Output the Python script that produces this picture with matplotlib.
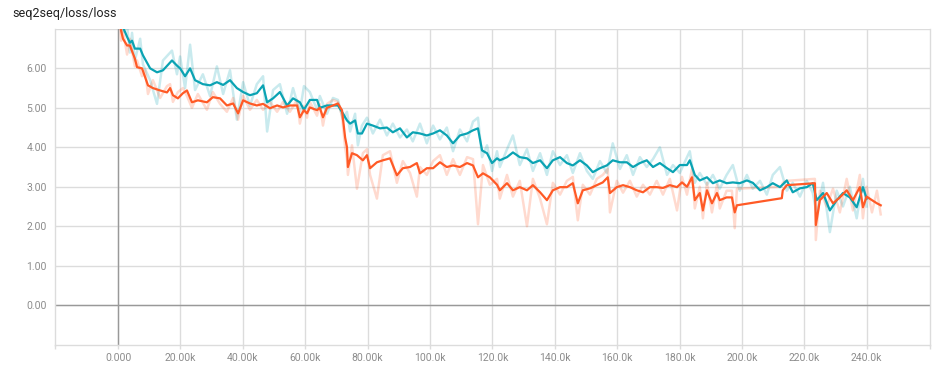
import matplotlib
matplotlib.use("Agg")
import matplotlib.pyplot as plt
import numpy as np

# ---------------- data (steps in thousands) ----------------
TEAL_STEPS = [0.6, 1.3, 2.9, 3.8, 4.5, 5.4, 7.1, 8.0, 10.3, 12.5, 14.4, 17.3, 18.9, 19.9, 21.5, 23.1,
              24.7, 27.2, 29.5, 31.7, 33.7, 35.9, 38.1, 40.1, 42.3, 44.5, 46.5, 47.8, 49.7, 51.9, 54.2,
              56.1, 58.3, 59.6, 61.5, 63.8, 64.7, 67.0, 68.9, 70.5, 72.1, 73.4, 74.4, 76.0, 76.9, 78.2,
              79.8, 81.7, 84.0, 86.2, 88.1, 90.4, 92.6, 94.5, 96.8, 99.0, 101.0, 103.2, 105.4, 107.4,
              109.6, 111.9, 113.8, 115.4, 116.7, 118.3, 119.9, 121.5, 122.4, 124.7, 126.6, 128.8, 131.1,
              133.0, 135.3, 137.5, 139.4, 141.7, 143.9, 145.8, 148.1, 150.3, 152.2, 154.5, 156.7, 158.6,
              160.9, 163.1, 165.1, 167.3, 169.5, 171.5, 173.7, 176.0, 177.9, 180.1, 182.4, 183.3, 184.9,
              186.5, 188.8, 190.7, 192.9, 195.1, 197.1, 199.3, 201.6, 203.5, 205.8, 208.0, 209.9, 212.2,
              214.4, 216.3, 218.6, 220.8, 222.7, 224.0, 226.0, 228.2, 230.4, 232.4, 234.6, 236.8, 238.8,
              240.0]
TEAL_SMOOTH = [7.6, 7.1, 6.8, 6.65, 6.7, 6.5, 6.5, 6.33, 6.0, 5.9, 5.95, 6.2, 6.07, 6.0, 5.8, 6.0,
               5.7, 5.6, 5.57, 5.65, 5.58, 5.7, 5.5, 5.4, 5.32, 5.37, 5.57, 5.14, 5.24, 5.4, 5.06,
               5.24, 5.14, 4.95, 5.2, 5.2, 5.0, 5.06, 5.06, 5.06, 4.86, 4.68, 4.6, 4.68, 4.35, 4.35,
               4.6, 4.55, 4.48, 4.5, 4.38, 4.48, 4.25, 4.38, 4.35, 4.3, 4.35, 4.43, 4.3, 4.1,
               4.3, 4.35, 4.43, 4.48, 3.92, 3.85, 3.6, 3.72, 3.67, 3.75, 3.87, 3.75, 3.72,
               3.6, 3.67, 3.47, 3.67, 3.75, 3.6, 3.54, 3.67, 3.54, 3.37, 3.47, 3.54, 3.67,
               3.62, 3.62, 3.5, 3.6, 3.67, 3.5, 3.6, 3.47, 3.37, 3.55, 3.55, 3.67, 3.3,
               3.16, 3.24, 3.09, 3.16, 3.09, 3.11, 3.09, 3.16, 3.1, 2.91, 2.99, 3.09, 2.99,
               3.16, 2.86, 2.96, 2.99, 3.09, 2.66, 2.84, 2.4, 2.66, 2.84, 2.73, 2.48, 2.99,
               2.7]
TEAL_RAW = [7.8, 6.9, 7.1, 6.4, 6.9, 6.2, 6.75, 6.1, 5.7, 5.1, 6.2, 6.45, 5.85, 6.3, 5.5, 6.6,
            5.45, 5.85, 5.3, 6.05, 5.35, 5.95, 4.7, 5.65, 5.05, 5.6, 5.8, 4.4, 5.45, 5.6, 4.85,
            5.5, 4.9, 5.55, 5.4, 4.95, 5.3, 4.85, 5.25, 5.2, 4.7, 4.9, 4.4, 4.85, 4.05, 4.55,
            4.75, 4.35, 4.7, 4.3, 4.6, 4.25, 4.45, 4.15, 4.6, 4.1, 4.55, 4.2, 4.5, 3.9,
            4.45, 4.15, 4.65, 4.75, 3.75, 4.05, 3.4, 3.9, 3.5, 3.95, 4.3, 3.55, 3.95,
            3.4, 3.85, 3.3, 3.9, 3.55, 3.8, 3.35, 3.85, 3.4, 3.2, 3.65, 3.35, 4.1,
            3.45, 3.8, 3.3, 3.75, 3.5, 3.7, 4.0, 3.3, 3.55, 3.35, 3.75, 3.9, 3.1,
            3.35, 3.05, 3.3, 2.95, 3.3, 3.55, 2.9, 3.3, 2.95, 3.15, 2.8, 3.3, 3.5,
            2.9, 3.1, 2.75, 3.15, 2.85, 2.3, 3.1, 1.85, 2.9, 2.5, 3.0, 2.2, 3.2,
            2.5]

ORANGE_STEPS = [0.3, 1.0, 1.6, 2.9, 3.8, 5.4, 6.1, 7.7, 8.7, 9.6, 11.2, 13.5, 15.7, 16.7, 17.6, 19.2,
                20.8, 22.1, 23.7, 25.6, 28.5, 30.4, 32.7, 34.9, 36.9, 38.5, 40.1, 42.3, 44.5, 46.5,
                48.7, 51.0, 52.9, 55.1, 57.4, 58.3, 59.6, 60.6, 61.5, 63.8, 64.7, 65.7, 67.0, 68.9,
                70.5, 71.8, 72.8, 73.4, 73.7, 75.0, 76.6, 78.5, 79.8, 80.8, 83.0, 84.9, 87.2, 89.4,
                91.3, 93.6, 95.8, 96.8, 99.0, 101.0, 103.2, 105.4, 107.4, 109.6, 111.9, 113.8, 115.4,
                117.0, 119.2, 121.5, 122.4, 124.7, 126.6, 128.8, 131.1, 133.0, 135.3, 137.5, 139.4,
                141.7, 143.9, 145.8, 147.4, 149.0, 151.3, 153.5, 155.4, 157.0, 157.7, 159.9, 161.9,
                164.1, 166.3, 168.3, 170.5, 172.7, 174.7, 176.9, 179.2, 180.8, 182.4, 184.0, 184.9,
                186.5, 187.5, 188.8, 190.4, 192.0, 192.9, 195.1, 196.8, 197.7, 198.4, 212.8, 213.1,
                214.4, 223.4, 223.7, 225.0, 227.2, 229.2, 231.4, 233.6, 235.6, 237.8, 238.8, 240.0,
                241.7, 243.3, 244.5]
ORANGE_SMOOTH = [7.4, 6.95, 6.75, 6.58, 6.58, 6.25, 6.03, 6.0, 5.77, 5.57, 5.5, 5.44, 5.39, 5.5, 5.32, 5.24,
                 5.37, 5.44, 5.14, 5.19, 5.14, 5.27, 5.24, 5.06, 5.11, 4.86, 5.19, 5.11, 5.06, 5.1,
                 4.99, 5.06, 5.01, 5.06, 5.06, 4.76, 4.94, 4.86, 5.01, 4.94, 5.0, 4.76, 5.0, 5.06,
                 5.11, 4.94, 4.25, 4.0, 3.5, 3.85, 3.8, 3.67, 3.8, 3.47, 3.62, 3.67, 3.72, 3.29,
                 3.47, 3.5, 3.6, 3.34, 3.47, 3.47, 3.62, 3.5, 3.54, 3.5, 3.6, 3.54, 3.24,
                 3.34, 3.24, 3.05, 2.91, 3.09, 2.91, 2.99, 2.91, 3.04, 2.86, 2.66, 2.91,
                 2.99, 2.99, 3.09, 2.58, 2.91, 2.96, 3.04, 3.11, 3.24, 2.84, 2.99, 3.04,
                 2.99, 2.91, 2.86, 2.99, 2.99, 2.97, 3.04, 2.99, 3.11, 3.0, 3.24, 2.66,
                 2.84, 2.4, 2.91, 2.58, 2.84, 2.66, 2.73, 2.73, 2.35, 2.53, 2.71, 2.91,
                 3.04, 3.09, 2.03, 2.66, 2.84, 2.58, 2.73, 2.91, 2.66, 2.99, 2.48, 2.75,
                 2.66, 2.58, 2.53]
ORANGE_RAW = [7.6, 6.7, 6.95, 6.35, 6.75, 6.05, 6.2, 5.8, 5.95, 5.35, 5.7, 5.25, 5.55, 5.6, 5.15, 5.4,
              5.5, 5.3, 5.0, 5.35, 4.95, 5.4, 5.1, 4.9, 5.25, 4.7, 5.3, 4.95, 5.2, 4.95,
              5.15, 4.9, 5.15, 4.9, 5.2, 4.6, 5.05, 4.75, 5.15, 4.8, 5.1, 4.55, 5.1, 5.2,
              5.15, 4.8, 4.0, 3.7, 3.3, 4.05, 2.95, 3.85, 3.95, 3.3, 2.7, 3.8, 3.9, 3.1,
              3.65, 3.35, 2.75, 3.5, 3.3, 3.65, 3.8, 3.3, 3.7, 3.3, 3.75, 3.7, 2.05,
              3.55, 3.05, 3.2, 2.7, 3.3, 2.75, 3.15, 2.0, 3.2, 2.7, 2.05, 3.1,
              2.8, 3.15, 3.25, 2.15, 3.05, 2.8, 3.2, 3.3, 3.45, 2.35, 3.15, 2.85,
              3.15, 2.75, 3.05, 2.8, 3.15, 2.8, 3.2, 2.4, 3.25, 2.8, 3.45, 2.45,
              3.0, 2.2, 3.1, 2.35, 3.05, 2.45, 2.9, 2.9, 1.95, 2.95, 3.0, 3.1,
              3.15, 3.2, 1.65, 2.9, 2.5, 2.95, 2.35, 3.2, 2.4, 3.3, 2.2, 3.0,
              2.35, 2.9, 2.3]

X_TICKS = [0, 20, 40, 60, 80, 100, 120, 140, 160, 180, 200, 220, 240]
X_TICK_LABELS = ["0.000", "20.00k", "40.00k", "60.00k", "80.00k", "100.0k", "120.0k",
                 "140.0k", "160.0k", "180.0k", "200.0k", "220.0k", "240.0k"]
Y_TICKS = [0, 1, 2, 3, 4, 5, 6]
Y_TICK_LABELS = ["0.00", "1.00", "2.00", "3.00", "4.00", "5.00", "6.00"]
TITLE = "seq2seq/loss/loss"

TEAL = "#0aa3b3"
ORANGE = "#ff5a26"
GRID = "#dcdcdc"
LABEL = "#8c8c8c"

plt.rcParams["font.family"] = ["Roboto", "DejaVu Sans"]

fig = plt.figure(figsize=(9.41, 3.70), dpi=100)
ax = fig.add_axes([55 / 941, 25 / 370, (930 - 55) / 941, (345 - 28.5) / 370])

ts = np.array(TEAL_STEPS) * 1000
os_ = np.array(ORANGE_STEPS) * 1000

ax.plot(ts, TEAL_RAW, color=TEAL, alpha=0.22, lw=1.8, zorder=3)
ax.plot(os_, ORANGE_RAW, color=ORANGE, alpha=0.22, lw=1.8, zorder=3)
ax.plot(ts, TEAL_SMOOTH, color=TEAL, lw=1.6, zorder=4)
ax.plot(os_, ORANGE_SMOOTH, color=ORANGE, lw=1.6, zorder=5)

ax.set_xlim(-20200, 260300)
ax.set_ylim(-1.01, 7.01)

ax.set_xticks([t * 1000 for t in X_TICKS])
ax.set_xticklabels(X_TICK_LABELS)
ax.set_xticks([-20200, 260300], minor=True)
ax.set_yticks(Y_TICKS)
ax.set_yticklabels(Y_TICK_LABELS)

ax.grid(True, color=GRID, lw=1.0, zorder=0)
ax.axhline(0, color="#999999", lw=1.0, zorder=2)
ax.axvline(0, color="#999999", lw=1.0, zorder=2)
ax.axhline(7.0, color=GRID, lw=1.0, zorder=1)

for s in ax.spines.values():
    s.set_color(GRID)
    s.set_linewidth(1.0)
ax.spines["top"].set_visible(False)

ax.tick_params(axis="x", which="both", length=3, width=1, color=GRID, pad=3,
               labelsize=7.5, labelcolor=LABEL)
ax.tick_params(axis="y", length=0, pad=6, labelsize=7.5, labelcolor=LABEL)

fig.text(12 / 941, 1 - 13 / 370, TITLE, fontsize=9, color="#212121", va="center", ha="left")

fig.savefig("out.png", dpi=100)
